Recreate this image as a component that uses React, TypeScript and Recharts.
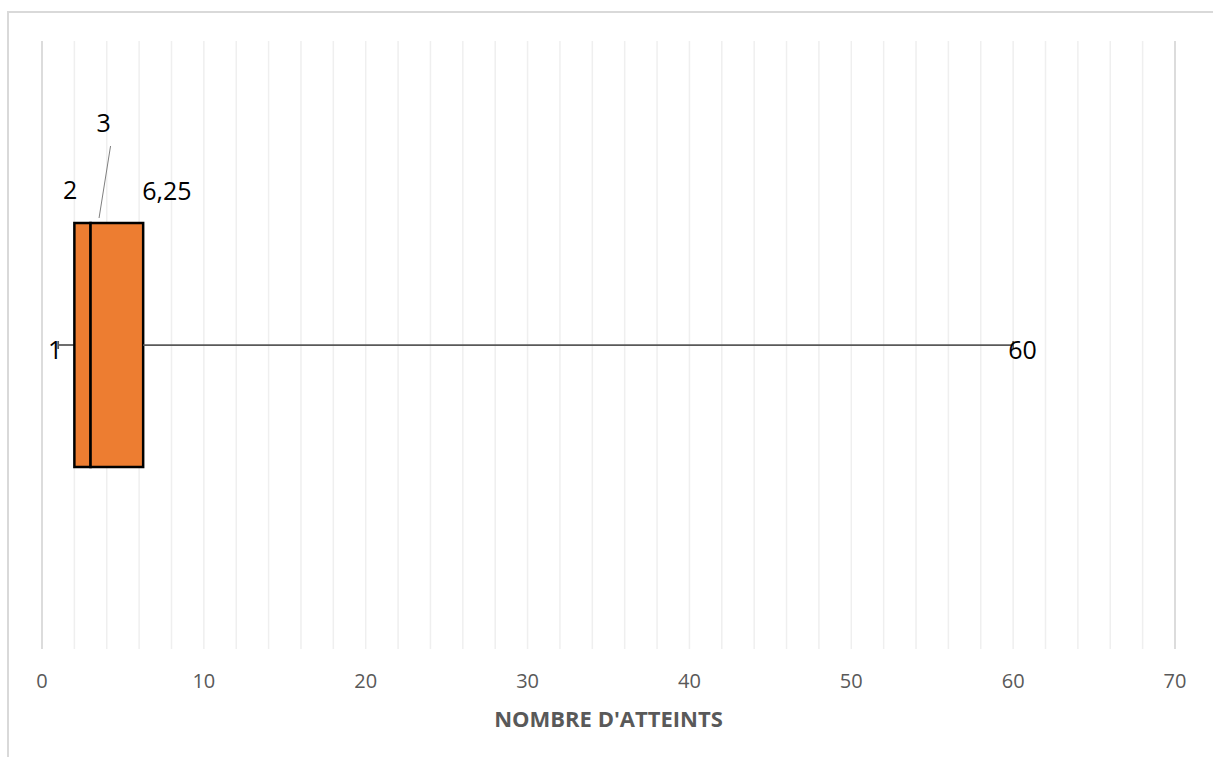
import React from "react";
import {
  ComposedChart,
  Bar,
  XAxis,
  YAxis,
  CartesianGrid,
  LabelList,
} from "recharts";

const categories = ["Atteints"];
const minimum = [1];
const firstQuartile = [2];
const median = [3];
const thirdQuartile = [6.25];
const maximum = [60];

const majorTicks = [0, 10, 20, 30, 40, 50, 60, 70];
const minorTicks = Array.from({ length: 36 }, (_, i) => i * 2);

const BOX_FILL = "#ED7D31";
const WHISKER = "#595959";
const LABEL_SIZE = 25;

const fmt = (v: number) => String(v).replace(".", ",");

const rows = categories.map((name, i) => ({
  name,
  base: minimum[i],
  lowWhisker: firstQuartile[i] - minimum[i],
  lowBox: median[i] - firstQuartile[i],
  highBox: thirdQuartile[i] - median[i],
  highWhisker: maximum[i] - thirdQuartile[i],
  min: minimum[i],
  q1: firstQuartile[i],
  med: median[i],
  q3: thirdQuartile[i],
  max: maximum[i],
}));

const BoxShape = (p: any) => (
  <rect
    x={p.x}
    y={p.y}
    width={p.width}
    height={p.height}
    fill={BOX_FILL}
    stroke="#000"
    strokeWidth={2.5}
  />
);

const whiskerShape = (side: "low" | "high") => (p: any) => {
  const cy = p.y + p.height / 2;
  const capX = side === "low" ? p.x : p.x + p.width;
  return (
    <g>
      <line x1={p.x} x2={p.x + p.width} y1={cy} y2={cy} stroke={WHISKER} strokeWidth={1.75} />
      <line x1={capX} x2={capX} y1={cy - 4} y2={cy + 4} stroke={WHISKER} strokeWidth={1.75} />
    </g>
  );
};

// label content helpers: LabelList gives the bar geometry (sometimes via viewBox)
const geo = (p: any) => p.viewBox ?? p;

const minLabel = (p: any) => {
  const b = geo(p);
  return (
    <text x={b.x + 4} y={b.y + b.height / 2 + 14} textAnchor="end" fontSize={LABEL_SIZE} fill="#000">
      {fmt(p.value)}
    </text>
  );
};

const maxLabel = (p: any) => {
  const b = geo(p);
  return (
    <text x={b.x + b.width - 5} y={b.y + b.height / 2 + 14} textAnchor="start" fontSize={LABEL_SIZE} fill="#000">
      {fmt(p.value)}
    </text>
  );
};

const q1Label = (p: any) => {
  const b = geo(p);
  return (
    <text x={b.x + 3} y={b.y - 24} textAnchor="end" fontSize={LABEL_SIZE} fill="#000">
      {fmt(p.value)}
    </text>
  );
};

const q3Label = (p: any) => {
  const b = geo(p);
  return (
    <text x={b.x + b.width - 1} y={b.y - 23} textAnchor="start" fontSize={LABEL_SIZE} fill="#000">
      {fmt(p.value)}
    </text>
  );
};

const medianLabel = (p: any) => {
  const b = geo(p);
  return (
    <g>
      <line x1={b.x + 20} y1={b.y - 77} x2={b.x + 8.5} y2={b.y - 5} stroke="#7f7f7f" strokeWidth={1} />
      <text x={b.x + 13} y={b.y - 91} textAnchor="middle" fontSize={LABEL_SIZE} fill="#000">
        {fmt(p.value)}
      </text>
    </g>
  );
};

export default function App() {
  return (
    <div
      style={{
        position: "fixed",
        left: 0,
        top: 0,
        width: 1213,
        height: 757,
        background: "#fff",
        fontFamily: "'Open Sans', sans-serif",
      }}
    >
      <div
        style={{
          position: "absolute",
          left: 7,
          top: 11,
          width: 1206,
          height: 746,
          borderTop: "2px solid #D9D9D9",
          borderLeft: "2px solid #D9D9D9",
          boxSizing: "border-box",
        }}
      />
      <div style={{ position: "absolute", left: 0, top: 0 }}>
        <ComposedChart
          width={1213}
          height={757}
          layout="vertical"
          data={rows}
          margin={{ top: 41, right: 38, bottom: 28, left: 42 }}
        >
          <CartesianGrid horizontal={false} stroke="#EFEFEF" strokeWidth={1.5} />
          <CartesianGrid horizontal={false} xAxisId="major" stroke="#D9D9D9" strokeWidth={1.75} />
          <XAxis
            type="number"
            domain={[0, 70]}
            ticks={minorTicks}
            interval={0}
            tickFormatter={(v: number) => (majorTicks.includes(v) ? String(v) : "")}
            axisLine={false}
            tickLine={false}
            tickMargin={19}
            height={80}
            tick={{ fill: "#595959", fontSize: 20 }}
            label={{
              value: "NOMBRE D'ATTEINTS",
              position: "insideBottom",
              offset: 2,
              fill: "#595959",
              fontSize: 22,
              fontWeight: 700,
            }}
          />
          <XAxis xAxisId="major" type="number" domain={[0, 70]} ticks={majorTicks} interval={0} hide />
          <YAxis type="category" dataKey="name" hide width={0} />
          <Bar dataKey="base" stackId="box" fill="transparent" barSize={244} isAnimationActive={false} />
          <Bar dataKey="lowWhisker" stackId="box" shape={whiskerShape("low")} barSize={244} isAnimationActive={false}>
            <LabelList dataKey="min" content={minLabel} />
          </Bar>
          <Bar dataKey="lowBox" stackId="box" shape={BoxShape} barSize={244} isAnimationActive={false}>
            <LabelList dataKey="q1" content={q1Label} />
          </Bar>
          <Bar dataKey="highBox" stackId="box" shape={BoxShape} barSize={244} isAnimationActive={false}>
            <LabelList dataKey="med" content={medianLabel} />
            <LabelList dataKey="q3" content={q3Label} />
          </Bar>
          <Bar dataKey="highWhisker" stackId="box" shape={whiskerShape("high")} barSize={244} isAnimationActive={false}>
            <LabelList dataKey="max" content={maxLabel} />
          </Bar>
        </ComposedChart>
      </div>
    </div>
  );
}
